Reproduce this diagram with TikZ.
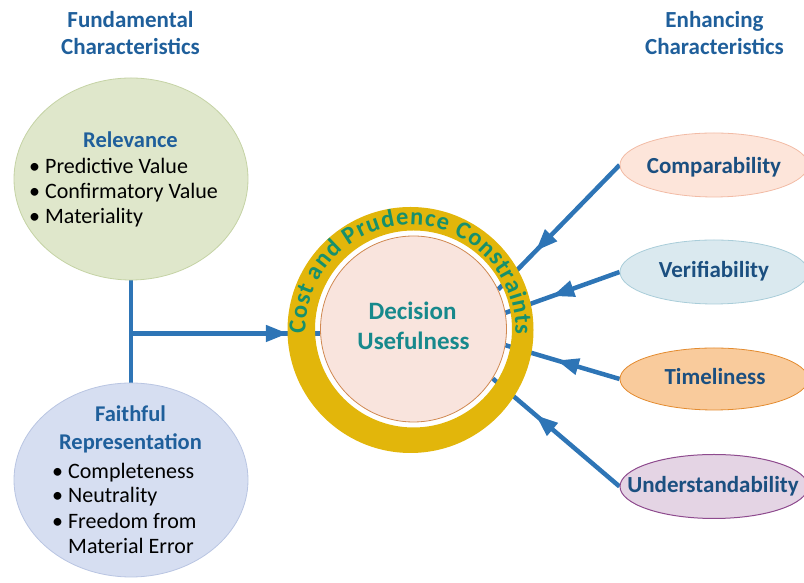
\documentclass[tikz,border=0pt]{standalone}
\usepackage{fontspec}
\setmainfont{Carlito}
\usetikzlibrary{shapes.geometric,arrows.meta,decorations.markings,decorations.text}
\pgfdeclarelayer{bg}
\pgfsetlayers{bg,main}
\definecolor{lineblue}{HTML}{2E75B6}
\definecolor{headblue}{HTML}{1F5F9B}
\definecolor{navyt}{HTML}{1B4F80}
\definecolor{relfill}{HTML}{DFE7CB}
\definecolor{relborder}{HTML}{C5D3A5}
\definecolor{faifill}{HTML}{D6DEF1}
\definecolor{faiborder}{HTML}{B9C5E2}
\definecolor{ringgold}{HTML}{E2B60B}
\definecolor{ringtext}{HTML}{17906C}
\definecolor{decfill}{HTML}{F9E4DD}
\definecolor{decborder}{HTML}{D08850}
\definecolor{decteal}{HTML}{17898C}
\definecolor{compfill}{HTML}{FDE5DA}
\definecolor{compborder}{HTML}{F2BBA5}
\definecolor{verfill}{HTML}{DAE9EF}
\definecolor{verborder}{HTML}{A9CDD9}
\definecolor{timfill}{HTML}{F9CB9C}
\definecolor{timborder}{HTML}{E38B2F}
\definecolor{undfill}{HTML}{E4D4E4}
\definecolor{undborder}{HTML}{8E4B8E}
\newcommand\ringfnt{\fontsize{24.5}{27}\selectfont\bfseries}
\begin{document}
\begin{tikzpicture}[x=1pt,y=1pt,
  ell/.style={ellipse, draw, line width=0.8pt, inner sep=0pt},
  bigell/.style={ell, minimum width=234pt, minimum height=#1},
  rell/.style={ell, minimum width=188pt, minimum height=64pt},
  head/.style={font=\fontsize{23}{27}\selectfont\bfseries, text=headblue, anchor=base, inner sep=0pt},
  sub/.style={font=\fontsize{22.5}{25}\selectfont\bfseries, text=headblue, anchor=base, inner sep=0pt},
  blt/.style={font=\fontsize{22}{25}\selectfont, text=black, anchor=base west, inner sep=0pt},
  rtxt/.style={font=\fontsize{23}{27}\selectfont\bfseries, text=navyt, anchor=base, inner sep=0pt},
  dtxt/.style={font=\fontsize{25}{30}\selectfont\bfseries, text=decteal, anchor=base, inner sep=0pt},
  link/.style={line width=4.5pt, draw=lineblue},
  arr/.style={link, postaction={decorate}, decoration={markings,
      mark=at position #1 with {\arrow[lineblue]{Triangle[length=22pt,width=16pt]}}}}
]
\useasboundingbox (0,0) rectangle (804,583);

% headings
\node[head] (h1) at (130.5,555) {Fundamental};
\node[head] (h2) at (130.5,528) {Characteristics};
\node[head] (h3) at (714.5,555) {Enhancing};
\node[head] (h4) at (714.5,528) {Characteristics};

% fundamental ellipses
\node[bigell=202pt, fill=relfill, draw=relborder] (rel) at (131,404) {};
\node[bigell=194pt, fill=faifill, draw=faiborder] (fai) at (131,103) {};

\node[sub] (relh) at (130.5,435) {Relevance};
\node[blt] (r1) at (29,409) {• Predictive Value};
\node[blt] (r2) at (29,384) {• Confirmatory Value};
\node[blt] (r3) at (29,359) {• Materiality};

\node[sub] (faih1) at (130.5,161) {Faithful};
\node[sub] (faih2) at (130.5,133) {Representation};
\node[blt] (f1) at (52,104) {• Completeness};
\node[blt] (f2) at (52,80) {• Neutrality};
\node[blt] (f3) at (52,54) {• Freedom from};
\node[blt] (f4) at (68,29) {Material Error};

% enhancing ellipses
\node[rell, fill=compfill, draw=compborder] (comp) at (714,418) {};
\node[rell, fill=verfill, draw=verborder] (ver) at (714,311) {};
\node[rell, fill=timfill, draw=timborder, minimum height=62pt] (tim) at (714,204) {};
\node[rell, fill=undfill, draw=undborder, line width=1pt] (und) at (714,96.5) {};
\node[rtxt] (ct) at (714,409) {Comparability};
\node[rtxt] (vt) at (714,305) {Verifiability};
\node[rtxt] (tt) at (715,198) {Timeliness};
\node[rtxt] (ut) at (713,90) {Understandability};

% centre
\node[circle, draw=decborder, fill=decfill, line width=0.8pt, minimum size=186pt, inner sep=0pt] (dec) at (413.5,254) {};
\fill[ringgold, even odd rule] (410.5,253) circle[radius=123pt] (413.5,254) circle[radius=98.5pt];
\path[decorate, decoration={text effects along path,
    text={Cost and Prudence Constraints},
    text effects/.cd, text along path, fit text to path,
    characters={font=\ringfnt, text=ringtext, inner sep=0pt}}]
  (410.5,253) ++(182:105pt) arc[start angle=182, end angle=-2.5, radius=105pt];
\node[dtxt] (d1) at (412.5,263) {Decision};
\node[dtxt] (d2) at (413.5,233) {Usefulness};

% connectors
\coordinate (jn) at (130.5,249.5);
\begin{pgfonlayer}{bg}
\draw[link] (rel.south) -- (fai.north);
\draw[arr=0.83] (jn) -- (jn -| dec.west);
\draw[arr=0.69] (comp.west) -- (dec.25);
\draw[arr=0.59] (ver.west) -- (dec.10);
\draw[arr=0.55] (tim.west) -- (dec.-10);
\draw[arr=0.66] (und.west) -- (dec.-32);
\end{pgfonlayer}
\end{tikzpicture}
\end{document}
